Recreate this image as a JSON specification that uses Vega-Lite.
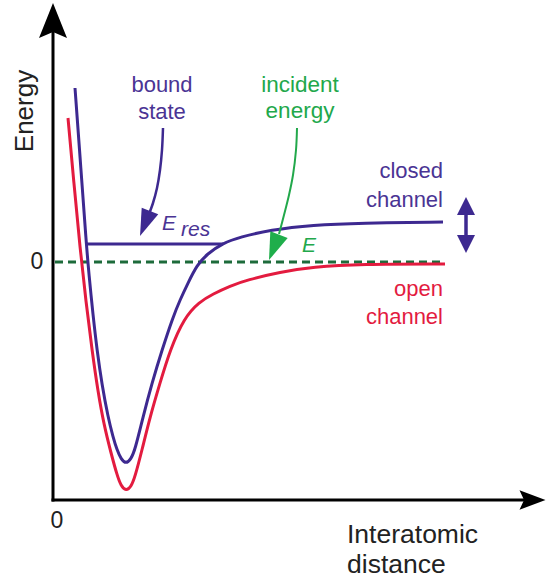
{
  "$schema": "https://vega.github.io/schema/vega-lite/v6.json",
  "width": 547,
  "height": 578,
  "padding": 0,
  "autosize": {"type": "none"},
  "background": "white",
  "config": {"view": {"stroke": null}},
  "datasets": {
    "zero": [{"i": 0, "x": 0.02, "y": 0}, {"i": 1, "x": 3.92, "y": 0}],
    "open": [
      {"i": 0, "x": 0.15, "y": 1.44}, {"i": 1, "x": 0.21, "y": 0.78}, {"i": 2, "x": 0.27, "y": 0.14},
      {"i": 3, "x": 0.33, "y": -0.40}, {"i": 4, "x": 0.39, "y": -0.88}, {"i": 5, "x": 0.45, "y": -1.30},
      {"i": 6, "x": 0.51, "y": -1.63}, {"i": 7, "x": 0.58, "y": -1.91}, {"i": 8, "x": 0.64, "y": -2.13},
      {"i": 9, "x": 0.68, "y": -2.24}, {"i": 10, "x": 0.73, "y": -2.29}, {"i": 11, "x": 0.78, "y": -2.25},
      {"i": 12, "x": 0.82, "y": -2.15}, {"i": 13, "x": 0.89, "y": -1.88}, {"i": 14, "x": 0.97, "y": -1.55},
      {"i": 15, "x": 1.07, "y": -1.21}, {"i": 16, "x": 1.17, "y": -0.88}, {"i": 17, "x": 1.31, "y": -0.56},
      {"i": 18, "x": 1.46, "y": -0.40}, {"i": 19, "x": 1.60, "y": -0.32}, {"i": 20, "x": 1.77, "y": -0.24},
      {"i": 21, "x": 1.94, "y": -0.18}, {"i": 22, "x": 2.27, "y": -0.10}, {"i": 23, "x": 2.60, "y": -0.05},
      {"i": 24, "x": 3.07, "y": -0.02}, {"i": 25, "x": 3.92, "y": -0.02}
    ],
    "closed": [
      {"i": 0, "x": 0.22, "y": 1.74}, {"i": 1, "x": 0.28, "y": 0.92}, {"i": 2, "x": 0.33, "y": 0.22},
      {"i": 3, "x": 0.36, "y": -0.13}, {"i": 4, "x": 0.40, "y": -0.53}, {"i": 5, "x": 0.44, "y": -0.88},
      {"i": 6, "x": 0.49, "y": -1.23}, {"i": 7, "x": 0.55, "y": -1.55}, {"i": 8, "x": 0.60, "y": -1.75},
      {"i": 9, "x": 0.64, "y": -1.88}, {"i": 10, "x": 0.68, "y": -1.97}, {"i": 11, "x": 0.73, "y": -2.02},
      {"i": 12, "x": 0.78, "y": -1.97}, {"i": 13, "x": 0.82, "y": -1.88}, {"i": 14, "x": 0.90, "y": -1.55},
      {"i": 15, "x": 0.99, "y": -1.21}, {"i": 16, "x": 1.09, "y": -0.88}, {"i": 17, "x": 1.20, "y": -0.55},
      {"i": 18, "x": 1.27, "y": -0.38}, {"i": 19, "x": 1.35, "y": -0.21}, {"i": 20, "x": 1.44, "y": -0.03},
      {"i": 21, "x": 1.54, "y": 0.08}, {"i": 22, "x": 1.70, "y": 0.19}, {"i": 23, "x": 1.87, "y": 0.25},
      {"i": 24, "x": 2.17, "y": 0.32}, {"i": 25, "x": 2.60, "y": 0.37}, {"i": 26, "x": 3.07, "y": 0.39},
      {"i": 27, "x": 3.90, "y": 0.40}
    ],
    "bound": [{"i": 0, "x": 0.34, "y": 0.18}, {"i": 1, "x": 1.70, "y": 0.18}],
    "axes": [
      {"axis": "energy", "i": 0, "x": 0, "y": 2.37}, {"axis": "energy", "i": 1, "x": 0, "y": -2.38},
      {"axis": "distance", "i": 0, "x": 0, "y": -2.38}, {"axis": "distance", "i": 1, "x": 4.77, "y": -2.38}
    ],
    "bshaft": [
      {"i": 0, "x": 1.10, "y": 1.34}, {"i": 1, "x": 1.09, "y": 1.12}, {"i": 2, "x": 1.07, "y": 0.92},
      {"i": 3, "x": 1.04, "y": 0.74}, {"i": 4, "x": 1.00, "y": 0.59}, {"i": 5, "x": 0.96, "y": 0.48}
    ],
    "gshaft": [
      {"i": 0, "x": 2.44, "y": 1.34}, {"i": 1, "x": 2.43, "y": 1.12}, {"i": 2, "x": 2.40, "y": 0.87},
      {"i": 3, "x": 2.36, "y": 0.67}, {"i": 4, "x": 2.31, "y": 0.47}, {"i": 5, "x": 2.26, "y": 0.28}
    ],
    "dshaft": [{"i": 0, "x": 4.13, "y": 0.56}, {"i": 1, "x": 4.13, "y": 0.18}],
    "yhead": [{"x": 0, "y": 2.415}],
    "xhead": [{"x": 4.795, "y": -2.38}],
    "phead": [{"x": 0.92, "y": 0.385}],
    "ghead": [{"x": 2.21, "y": 0.147}],
    "dup": [{"x": 4.13, "y": 0.56}],
    "ddown": [{"x": 4.13, "y": 0.18}],
    "ptext": [{"x": 1.09, "y": 1.70, "t": "bound"}, {"x": 1.09, "y": 1.43, "t": "state"}],
    "gtext": [{"x": 2.47, "y": 1.70, "t": "incident"}, {"x": 2.47, "y": 1.44, "t": "energy"}],
    "ctext": [{"x": 3.90, "y": 0.84, "t": "closed"}, {"x": 3.90, "y": 0.55, "t": "channel"}],
    "otext": [{"x": 3.90, "y": -0.34, "t": "open"}, {"x": 3.90, "y": -0.62, "t": "channel"}],
    "eres": [{"x": 1.09, "y": 0.32, "t": "E"}, {"x": 1.28, "y": 0.26, "t": "res"}],
    "ge": [{"x": 2.49, "y": 0.10, "t": "E"}],
    "zeros": [{"x": -0.16, "y": 0, "t": "0"}, {"x": 0.04, "y": -2.59, "t": "0"}],
    "xlab": [{"x": 2.94, "y": -2.81, "t": "Interatomic"}, {"x": 2.94, "y": -3.11, "t": "distance"}],
    "ylab": [{"x": -0.20, "y": 1.51, "t": "Energy"}]
  },
  "encoding": {
    "x": {"field": "x", "type": "quantitative", "scale": {"domain": [-0.53, 4.94], "nice": false, "zero": false}, "axis": null},
    "y": {"field": "y", "type": "quantitative", "scale": {"domain": [-3.16, 2.62], "nice": false, "zero": false}, "axis": null}
  },
  "layer": [
    {"data": {"name": "zero"}, "mark": {"type": "line", "color": "#1d6b3b", "strokeWidth": 3, "strokeDash": [8, 5]}, "encoding": {"order": {"field": "i"}}},
    {"data": {"name": "open"}, "mark": {"type": "line", "color": "#e31b3f", "strokeWidth": 3, "interpolate": "basis"}, "encoding": {"order": {"field": "i"}}},
    {"data": {"name": "closed"}, "mark": {"type": "line", "color": "#3d2990", "strokeWidth": 3, "interpolate": "basis"}, "encoding": {"order": {"field": "i"}}},
    {"data": {"name": "bound"}, "mark": {"type": "line", "color": "#3d2990", "strokeWidth": 3}, "encoding": {"order": {"field": "i"}}},
    {"data": {"name": "axes"}, "mark": {"type": "line", "color": "black", "strokeWidth": 3, "strokeCap": "square"}, "encoding": {"detail": {"field": "axis"}, "order": {"field": "i"}}},
    {"data": {"name": "bshaft"}, "mark": {"type": "line", "color": "#3d2990", "strokeWidth": 2.5, "interpolate": "catmull-rom"}, "encoding": {"order": {"field": "i"}}},
    {"data": {"name": "gshaft"}, "mark": {"type": "line", "color": "#22a84b", "strokeWidth": 2, "interpolate": "catmull-rom"}, "encoding": {"order": {"field": "i"}}},
    {"data": {"name": "dshaft"}, "mark": {"type": "line", "color": "#3d2990", "strokeWidth": 3.5}, "encoding": {"order": {"field": "i"}}},
    {"data": {"name": "yhead"}, "mark": {"type": "point", "filled": true, "opacity": 1, "color": "black", "strokeWidth": 0, "shape": "M0,-1L0.8,1L0,0.65L-0.8,1Z", "size": 1225}},
    {"data": {"name": "xhead"}, "mark": {"type": "point", "filled": true, "opacity": 1, "color": "black", "strokeWidth": 0, "shape": "M0,-1L0.75,1L0,0.65L-0.75,1Z", "size": 676, "angle": 90}},
    {"data": {"name": "phead"}, "mark": {"type": "point", "filled": true, "opacity": 1, "color": "#3d2990", "strokeWidth": 0, "shape": "M0,-1L0.66,1L-0.66,1Z", "size": 729, "angle": 201.7}},
    {"data": {"name": "ghead"}, "mark": {"type": "point", "filled": true, "opacity": 1, "color": "#1fae4b", "strokeWidth": 0, "shape": "M0,-1L0.68,1L-0.68,1Z", "size": 750, "angle": 201.4}},
    {"data": {"name": "dup"}, "mark": {"type": "point", "filled": true, "opacity": 1, "color": "#3d2990", "strokeWidth": 0, "shape": "M0,-1L1,1L-1,1Z", "size": 324}},
    {"data": {"name": "ddown"}, "mark": {"type": "point", "filled": true, "opacity": 1, "color": "#3d2990", "strokeWidth": 0, "shape": "M0,-1L1,1L-1,1Z", "size": 324, "angle": 180}},
    {"data": {"name": "ptext"}, "mark": {"type": "text", "color": "#4a3494", "font": "Liberation Sans", "fontSize": 22, "align": "center", "baseline": "alphabetic"}, "encoding": {"text": {"field": "t"}}},
    {"data": {"name": "gtext"}, "mark": {"type": "text", "color": "#22a84b", "font": "Liberation Sans", "fontSize": 22.5, "align": "center", "baseline": "alphabetic"}, "encoding": {"text": {"field": "t"}}},
    {"data": {"name": "ctext"}, "mark": {"type": "text", "color": "#4a3494", "font": "Liberation Sans", "fontSize": 22, "align": "right", "baseline": "alphabetic"}, "encoding": {"text": {"field": "t"}}},
    {"data": {"name": "otext"}, "mark": {"type": "text", "color": "#e31b3f", "font": "Liberation Sans", "fontSize": 22, "align": "right", "baseline": "alphabetic"}, "encoding": {"text": {"field": "t"}}},
    {"data": {"name": "eres"}, "mark": {"type": "text", "color": "#4a3494", "font": "Liberation Sans", "fontSize": 21, "fontStyle": "italic", "align": "left", "baseline": "alphabetic"}, "encoding": {"text": {"field": "t"}}},
    {"data": {"name": "ge"}, "mark": {"type": "text", "color": "#22a84b", "font": "Liberation Sans", "fontSize": 21, "fontStyle": "italic", "align": "left", "baseline": "alphabetic"}, "encoding": {"text": {"field": "t"}}},
    {"data": {"name": "zeros"}, "mark": {"type": "text", "color": "#222222", "font": "Liberation Sans", "fontSize": 23, "align": "center", "baseline": "middle"}, "encoding": {"text": {"field": "t"}}},
    {"data": {"name": "xlab"}, "mark": {"type": "text", "color": "#222222", "font": "Liberation Sans", "fontSize": 26.5, "align": "left", "baseline": "alphabetic"}, "encoding": {"text": {"field": "t"}}},
    {"data": {"name": "ylab"}, "mark": {"type": "text", "color": "#222222", "font": "Liberation Sans", "fontSize": 26, "align": "center", "baseline": "alphabetic", "angle": 270}, "encoding": {"text": {"field": "t"}}}
  ]
}
